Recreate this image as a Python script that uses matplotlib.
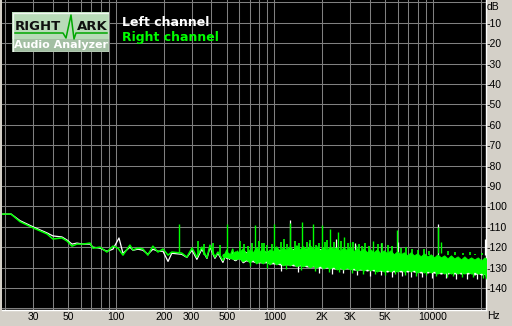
import numpy as np
import matplotlib
matplotlib.use("Agg")
import matplotlib.pyplot as plt
from matplotlib.patches import Rectangle

# ---- data ----
# low-frequency part of the noise floor, drawn as a plain line
RIGHT_LOW_F = [19.1, 21.8, 24.8, 29.9, 36.7, 40.0, 45.6, 49.1, 52.8, 56.7, 61.9, 68.5,
               71.6, 79.3, 87.7, 95.7, 103, 110.7, 122.5, 128, 137.6, 148, 159, 171,
               184, 198, 213, 225, 260, 280, 302, 324, 348, 375, 392, 421, 440, 473,
               500, 520, 545, 560, 585, 600]
RIGHT_LOW_DB = [-103.8, -103.8, -107.5, -110.5, -113.5, -116, -115.5, -117, -119.5, -118.5,
                -118.5, -118, -120.5, -120, -122.4, -119.5, -120.5, -123.9, -119, -121.4,
                -120.4, -120.9, -123.9, -119.5, -122.4, -120.9, -123.9, -122.4, -122.9,
                -124.9, -120.4, -124.9, -120, -125.3, -119, -124.9, -122.4, -126.5, -121.5,
                -125.5, -121, -126, -122, -125]
LEFT_LOW_F = [19.1, 21.8, 24.8, 29.9, 36.7, 40.0, 45.6, 49.1, 52.8, 56.7, 61.9, 68.5,
              71.6, 79.3, 87.7, 95.7, 104.5, 110.7, 122.5, 128, 137.6, 148, 159, 171,
              184, 198, 213, 225, 260, 280, 302, 324, 348, 375, 392, 421, 440, 473,
              500, 520, 545, 560, 585, 600]
LEFT_LOW_DB = [-103.8, -103.8, -107, -110, -113, -114.5, -115, -116.5, -118.5, -118,
               -118.5, -118.5, -120, -120.5, -122, -121, -115.5, -123, -120, -121.5,
               -121, -121.5, -123.5, -121, -122, -122, -127, -123, -123.5, -125,
               -121.5, -126, -121, -125.5, -120, -125.5, -123, -127.5, -122, -126,
               -122, -126.5, -122.5, -125.5]

# dense part of the spectrum: upper / lower edge of the noise band
BAND_F = [470, 500, 530, 565, 600, 630, 662, 695, 730, 766, 805, 845, 887, 931, 978, 1027,
          1078, 1132, 1189, 1248, 1310, 1376, 1445, 1517, 1593, 1672, 1756, 1844, 1936,
          2033, 2134, 2241, 2353, 2471, 2594, 2724, 2860, 3003, 3153, 3311, 3477, 3650,
          3833, 4024, 4226, 4437, 4659, 4892, 5136, 5393, 5663, 5946, 6243, 6555, 6883,
          7227, 7589, 7968, 8367, 8785, 9224, 9686, 10170, 10678, 11212, 11773, 12361,
          12980, 13629, 14310, 15026, 15777, 16566, 17394, 18264, 19177, 20136, 21143,
          22050]
RIGHT_TOP = [-123.5, -122.5, -123.5, -122, -122.5, -120.5, -123, -121, -122.5, -120, -122,
             -120.5, -123, -121, -122, -119.5, -122, -120, -121.5, -119.5, -121.5, -119,
             -121, -119.5, -121.5, -119, -121, -119.5, -121.5, -120, -121.5, -119.5, -121,
             -120, -122, -120, -121.5, -120, -122, -120.5, -122, -120.5, -122.5, -121,
             -122.5, -121, -123, -121.5, -123, -121.5, -123.5, -122, -123.5, -122.5, -124,
             -122.5, -124, -123, -124.5, -123, -124.5, -123.5, -125, -123.5, -125, -124,
             -125.5, -124, -125.5, -124.5, -126, -124.5, -126, -125, -126, -125, -126.5,
             -125, -126]
RIGHT_BOT = [-124.5, -125, -125.5, -126, -125.5, -127, -126, -127.5, -126, -128, -127,
             -128, -126.5, -128.5, -127, -128.5, -127.5, -129, -128, -129, -128, -129.5,
             -128.5, -129.5, -128.5, -130, -129, -130, -129, -130.5, -129.5, -130.5,
             -129.5, -131, -130, -131, -130, -131, -130, -131.5, -130.5, -131.5, -130.5,
             -131.5, -130.5, -132, -131, -132, -131, -132, -131, -132, -131, -132, -131,
             -132, -131, -132.5, -131.5, -132.5, -131.5, -132.5, -131.5, -133, -132, -133,
             -132, -133, -132, -133, -132, -133, -132, -133, -132, -133, -132.5, -133,
             -136.5]
LEFT_TOP = [-124, -123, -124, -122.5, -123, -121.5, -122.5, -122, -123, -121, -122.5,
            -121.5, -122.5, -121.5, -122.5, -120.5, -121.5, -121, -122, -120.5, -121,
            -120, -121.5, -120.5, -121, -120, -121.5, -120.5, -121, -120.5, -122, -120.5,
            -121.5, -121, -122, -121, -122, -121, -122.5, -121.5, -122.5, -121.5, -123,
            -122, -123, -122, -123.5, -122.5, -123.5, -122.5, -124, -123, -124, -123.5,
            -124.5, -123.5, -124.5, -124, -125, -124, -125, -124.5, -125.5, -124.5, -125.5,
            -125, -126, -125, -126, -125.5, -126.5, -125.5, -126.5, -126, -126.5, -126,
            -127, -126, -126.5]
LEFT_BOT = [-124, -125.5, -125, -126.5, -125, -127.5, -126.5, -127, -127, -127.5,
            -127.5, -127.5, -127.5, -128, -128, -128, -128.5, -128.5, -128.5, -128.5,
            -129, -129, -129, -129, -129.5, -129.5, -129.5, -129.5, -130, -130,
            -130, -130, -130.5, -130.5, -130.5, -130.5, -130.5, -130.5, -131, -131,
            -131, -131, -131.5, -131, -131.5, -131.5, -131.5, -131.5, -132, -131.5,
            -132, -131.5, -132, -131.5, -132, -131.5, -132, -132, -132.5, -132,
            -132.5, -132, -132.5, -132.5, -133, -132.5, -133, -132.5, -133, -132.5,
            -133, -132.5, -133, -132.5, -133.5, -132.5, -133.5, -133, -134]

# mains-harmonic spikes and smaller noise peaks / dips
RIGHT_SPIKE_F = [250, 500, 750, 1000, 1250, 1500, 1750, 2000, 2250, 2500, 2750, 3000,
                 3250, 4200, 5930, 10700, 11300]
RIGHT_SPIKE_DB = [-108.5, -108.5, -109, -108.5, -108, -107.5, -108.5, -109, -111, -112.5,
                  -115, -117.5, -119, -117, -111.5, -110, -117.5]
RIGHT_HAIR_F = [330, 360, 410, 455, 610, 645, 680, 720, 800, 830, 860, 900, 960, 1100,
                1150, 1200, 1350, 1420, 1600, 1680, 1820, 1900, 2080, 2150, 2380, 2620,
                2900, 3120, 3400, 3550, 3700, 3950, 4500, 4800, 5200, 5500, 6300, 6800,
                7400, 8000, 8800, 9500, 12500, 13800, 15500, 17000, 18500, 20500]
RIGHT_HAIR_DB = [-117, -118.5, -118, -119, -117, -118.5, -119.5, -118, -117, -118, -118,
                 -119, -118.5, -117.5, -116, -118.5, -117, -118, -117.5, -116.5, -119, -118,
                 -117.5, -116.5, -117.5, -117, -118, -117.5, -118.5, -119.5, -118, -119.5,
                 -118.5, -118, -119, -119.5, -120.5, -120, -121, -121.5, -121, -122, -122,
                 -122.5, -123, -122.5, -123.5, -123]
RIGHT_DIP_F = [700, 900, 1180, 1480, 1800, 2200, 2560, 3100, 3600, 4300, 5000, 5800,
               6700, 7800, 9000, 10400, 12200, 13300, 15200, 17800, 20800]
RIGHT_DIP_DB = [-129, -130, -130.5, -131, -131.5, -132, -132, -132.5, -133, -133, -133.5,
                -133, -133.5, -134, -133.5, -134, -134.5, -134, -134.5, -134.5, -135]
LEFT_SPIKE_F = [1250, 1660, 2450, 3200, 4700, 6000, 10700, 21400]
LEFT_SPIKE_DB = [-106.5, -118, -116, -118, -118, -117.5, -108.5, -116]
LEFT_DIP_F = [1100, 1400, 1900, 2300, 2700, 3300, 4000, 4700, 5500, 6400, 7300, 8500,
              9800, 12000, 14000, 16500, 19000]
LEFT_DIP_DB = [-131.5, -132, -132.5, -133, -132.5, -133.5, -134, -133.5, -134.5, -134,
               -134.5, -134.5, -135, -135, -135.5, -135.5, -135.5]

X_GRID = [20, 30, 40, 50, 60, 70, 80, 90, 100, 200, 300, 400, 500, 600, 700, 800, 900,
          1000, 2000, 3000, 4000, 5000, 6000, 7000, 8000, 9000, 10000, 20000]
X_LABELS = {30: "30", 50: "50", 100: "100", 200: "200", 300: "300", 500: "500",
            1000: "1000", 2000: "2K", 3000: "3K", 5000: "5K", 10000: "10000"}
Y_TICKS = list(range(-150, 1, 10))

W, H = 512, 326
BG = "#D4D0C8"
GREEN = "#00FF00"
GRID = "#808080"


def fx(x):
    return x / W


def fy(y):
    return 1 - y / H


fig = plt.figure(figsize=(W / 100, H / 100), dpi=100)
fig.patch.set_facecolor(BG)
ax = fig.add_axes([fx(2), fy(310), (486 - 2) / W, 310 / H])
ax.set_facecolor("black")
ax.set_xscale("log")
ax.set_xlim(19.1, 21600)
ax.set_ylim(-150.8, 1.13)

# left channel (white) first, right channel (green) on top
ax.plot(LEFT_LOW_F, LEFT_LOW_DB, color="white", lw=0.9, zorder=3)
ax.fill_between(BAND_F, LEFT_BOT, LEFT_TOP, color="white", lw=0.6, zorder=3)
ax.vlines(LEFT_SPIKE_F, -124, LEFT_SPIKE_DB, color="white", lw=0.9, zorder=3)
ax.vlines(LEFT_DIP_F, LEFT_DIP_DB, -128, color="white", lw=0.9, zorder=3)

ax.plot(RIGHT_LOW_F, RIGHT_LOW_DB, color=GREEN, lw=1.1, zorder=4)
ax.fill_between(BAND_F, RIGHT_BOT, RIGHT_TOP, color=GREEN, lw=0.6, zorder=4)
ax.vlines(RIGHT_HAIR_F, -124, RIGHT_HAIR_DB, color=GREEN, lw=1.2, zorder=4)
ax.vlines(RIGHT_DIP_F, RIGHT_DIP_DB, -127, color=GREEN, lw=1.0, zorder=4)
ax.vlines(RIGHT_SPIKE_F, -123, RIGHT_SPIKE_DB, color=GREEN, lw=1.0, zorder=4)

ax.set_xticks(X_GRID)
ax.set_xticklabels([X_LABELS.get(f, "") for f in X_GRID])
ax.xaxis.set_minor_locator(matplotlib.ticker.NullLocator())
ax.set_yticks(Y_TICKS)
ax.set_yticklabels(["" if v in (0, -150) else str(v) for v in Y_TICKS])
ax.yaxis.tick_right()
ax.tick_params(axis="both", length=0, labelsize=7.5, colors="black")
ax.tick_params(axis="x", pad=1.5)
ax.tick_params(axis="y", pad=0.5)
for lbl in ax.get_xticklabels() + ax.get_yticklabels():
    lbl.set_family("Liberation Sans")
ax.grid(True, color=GRID, lw=0.75, zorder=1)
ax.set_axisbelow(True)
for side in ("left", "top"):
    ax.spines[side].set_visible(False)
for side in ("right", "bottom"):
    ax.spines[side].set_color("white")
    ax.spines[side].set_linewidth(1)

fig.text(fx(487), fy(7.5), "dB", fontsize=7.5, family="Liberation Sans", va="center")
fig.text(fx(487), fy(316), "Hz", fontsize=7.5, family="Liberation Sans", va="center")

# legend
fig.text(fx(122), fy(22.5), "Left channel", color="white", fontsize=9,
         weight="bold", va="center")
fig.text(fx(122), fy(37.5), "Right channel", color=GREEN, fontsize=9,
         weight="bold", va="center")

# RightMark logo
lg = fig.add_axes([fx(12), fy(52), 97 / W, 40 / H])
lg.set_xlim(0, 97)
lg.set_ylim(40, 0)
lg.axis("off")
lg.add_patch(Rectangle((0, 0), 97, 40, facecolor="#B8DBB8", edgecolor="none"))
lg.add_patch(Rectangle((0, 27), 97, 13, facecolor="#A3BFA3", edgecolor="none"))
lg.add_patch(Rectangle((0.5, 0.5), 96, 39, facecolor="none", edgecolor="#F0F6F0", lw=1))
lg.plot([3, 51, 54, 59, 62, 64, 95], [21, 21, 26, 3, 27, 21, 21], color="#00A800", lw=1.1)
lg.text(3, 15, "RIGHT", fontsize=9.5, weight="bold", color="#101010", va="center")
lg.text(65, 15, "ARK", fontsize=9.5, weight="bold", color="#101010", va="center")
lg.text(48.5, 33.5, "Audio Analyzer", fontsize=8, weight="bold", color="white",
        ha="center", va="center")

fig.savefig("out.png", dpi=100, facecolor=fig.get_facecolor())
